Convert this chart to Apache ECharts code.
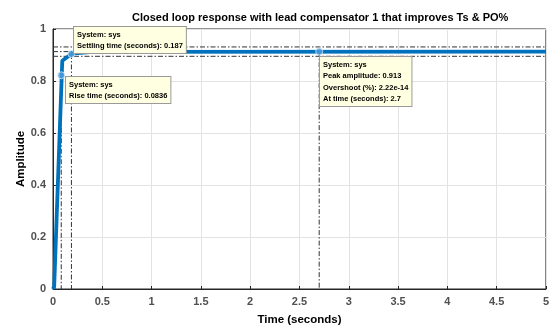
<!DOCTYPE html>
<html><head><meta charset="utf-8">
<script src="https://cdn.jsdelivr.net/npm/echarts@6/dist/echarts.min.js"></script>
<style>html,body{margin:0;padding:0;background:#fff}#c{width:552px;height:331px}</style>
</head><body><div id="c"></div>
<script>
const titleText = 'Closed loop response with lead compensator 1 that improves Ts & PO%';
const xName = 'Time (seconds)';
const yName = 'Amplitude';
const xTickLabels = ['0','0.5','1','1.5','2','2.5','3','3.5','4','4.5','5'];
const yTickLabels = ['0','0.2','0.4','0.6','0.8','1'];
const stepT = [0, 0.012, 0.094, 0.19, 0.4, 5];
const stepY = [0, 0.01, 0.878, 0.905, 0.912, 0.913];
const riseT10 = 0.02, riseY10 = 0.091;
const riseT = 0.0836, riseY = 0.822;
const settleT = 0.187, settleY = 0.904;
const settleBounds = [0.931, 0.895];
const peakT = 2.7, peakY = 0.913;
const tipRise = ['System: sys', 'Rise time (seconds): 0.0836'];
const tipSettle = ['System: sys', 'Settling time (seconds): 0.187'];
const tipPeak = ['System: sys', 'Peak amplitude: 0.913', 'Overshoot (%): 2.22e-14', 'At time (seconds): 2.7'];

const chart = echarts.init(document.getElementById('c'), null, {renderer: 'canvas'});
const FONT = '"Liberation Sans", Arial, sans-serif';
const dashStyle = {color: '#333', width: 1, type: [5, 2, 1.5, 2]};
function refLine(pts) {
  return {type: 'line', data: pts, showSymbol: false, silent: true, z: 2,
          lineStyle: dashStyle, animation: false};
}
const xMin = 0, xMax = 5;
chart.setOption({
  animation: false,
  backgroundColor: '#fff',
  title: {text: titleText, left: 127, top: 7,
          textStyle: {fontFamily: FONT, fontWeight: 'bold', fontSize: 11, color: '#000'}},
  grid: {left: 53, right: 5, top: 29, bottom: 38, show: true, borderColor: '#262626', borderWidth: 1, backgroundColor: '#fff'},
  xAxis: {type: 'value', min: xMin, max: xMax, interval: 0.5,
    name: xName, nameLocation: 'middle', nameGap: 25, nameMoveOverlap: false,
    nameTextStyle: {fontFamily: FONT, fontWeight: 'bold', fontSize: 11.5, color: '#000'},
    axisLine: {lineStyle: {color: '#262626'}},
    axisTick: {inside: true, length: 3, lineStyle: {color: '#262626'}},
    splitLine: {show: true, lineStyle: {color: '#e3e3e3'}},
    axisLabel: {margin: 7, fontFamily: FONT, fontWeight: 'bold', fontSize: 11, color: '#505050',
      formatter: v => xTickLabels[Math.round(v / 0.5)]}},
  yAxis: {type: 'value', min: 0, max: 1, interval: 0.2,
    name: yName, nameLocation: 'middle', nameGap: 26, nameRotate: 90, nameMoveOverlap: false,
    nameTextStyle: {fontFamily: FONT, fontWeight: 'bold', fontSize: 11.5, color: '#000'},
    axisLine: {show: true, lineStyle: {color: '#262626'}},
    axisTick: {show: true, inside: true, length: 3, lineStyle: {color: '#262626'}},
    splitLine: {show: true, lineStyle: {color: '#e3e3e3'}},
    axisLabel: {margin: 7, fontFamily: FONT, fontWeight: 'bold', fontSize: 11, color: '#505050',
      formatter: v => yTickLabels[Math.round(v / 0.2)]}},
  series: [
    refLine([[xMin, settleBounds[0]], [xMax, settleBounds[0]]]),
    refLine([[xMin, settleBounds[1]], [xMax, settleBounds[1]]]),
    refLine([[xMin, peakY], [peakT, peakY]]),
    refLine([[peakT, peakY], [peakT, 0]]),
    refLine([[settleT, settleY], [settleT, 0]]),
    refLine([[riseT, riseY], [riseT, 0]]),
    refLine([[riseT10, riseY10], [riseT10, 0]]),
    {type: 'line', data: stepT.map((t, i) => [t, stepY[i]]), showSymbol: false, z: 5,
     lineStyle: {color: '#0072BD', width: 3.8}},
    {type: 'scatter', z: 6, symbolSize: 7,
     itemStyle: {color: '#4f9fdc', borderColor: '#d6e9f7', borderWidth: 1},
     data: [[riseT, riseY], [settleT, settleY], [peakT, peakY]]}
  ]
});

function tip(lines, t, y, dx, dy) {
  const p = chart.convertToPixel({gridIndex: 0}, [t, y]);
  return {type: 'text', x: Math.round(p[0] + dx), y: Math.round(p[1] + dy), z: 100,
    style: {text: lines.join('\n'), font: 'bold 7.5px ' + FONT, fill: '#000',
      align: 'left', verticalAlign: 'top', lineHeight: 11.5,
      backgroundColor: '#ffffe1', borderColor: '#9a9a9a', borderWidth: 1, padding: [2, 3, 1, 3]}};
}
chart.setOption({graphic: [
  tip(tipSettle, settleT, settleY, 2.5, -27),
  tip(tipRise, riseT, riseY, 4.4, 2),
  tip(tipPeak, peakT, peakY, 0.7, 5)
]});
</script></body></html>
